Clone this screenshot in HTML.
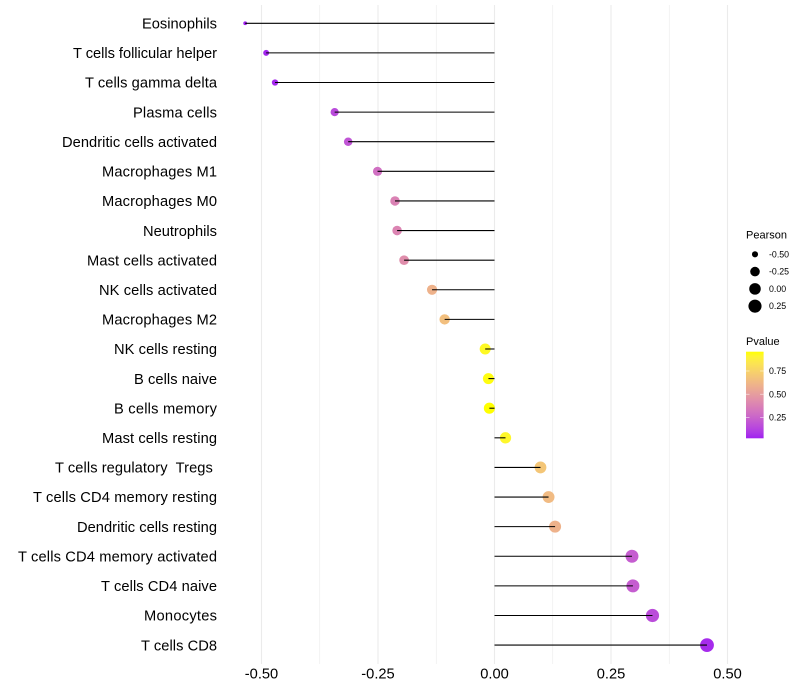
<!DOCTYPE html>
<html lang="en">
<head>
<meta charset="utf-8">
<title>Immune cell correlation lollipop chart</title>
<style>
  html, body { margin: 0; padding: 0; background: #fff; }
  svg { display: block; font-family: "Liberation Sans", Arial, sans-serif; }
  text { white-space: pre; }
</style>
</head>
<body>
<svg id="chart" xmlns="http://www.w3.org/2000/svg" width="800" height="700" viewBox="0 0 800 700">
  <defs>
    <linearGradient id="pvalue-gradient" x1="0" y1="1" x2="0" y2="0"></linearGradient>
  </defs>
  <rect x="0" y="0" width="800" height="700" fill="#ffffff"></rect>
  <g id="grid"></g>
  <g id="points"></g>
  <g id="stems"></g>
  <g id="y-axis"></g>
  <g id="x-axis"></g>
  <g id="size-legend"></g>
  <g id="color-legend"></g>
</svg>
<script>
var categories = ["Eosinophils","T cells follicular helper","T cells gamma delta","Plasma cells","Dendritic cells activated","Macrophages M1","Macrophages M0","Neutrophils","Mast cells activated","NK cells activated","Macrophages M2","NK cells resting","B cells naive","B cells memory","Mast cells resting","T cells regulatory  Tregs ","T cells CD4 memory resting","Dendritic cells resting","T cells CD4 memory activated","T cells CD4 naive","Monocytes","T cells CD8"];
var pearson = [-0.535,-0.49,-0.471,-0.343,-0.314,-0.251,-0.2135,-0.209,-0.194,-0.134,-0.107,-0.02,-0.013,-0.011,0.0236,0.0987,0.116,0.13,0.295,0.297,0.339,0.456];
var pvalue = [0.024,0.034,0.042,0.15,0.19,0.30,0.38,0.39,0.43,0.60,0.66,0.93,0.95,0.958,0.92,0.69,0.64,0.60,0.22,0.22,0.155,0.05];
var xTicks = [-0.5,-0.25,0,0.25,0.5];
var xTickLabels = ["-0.50","-0.25","0.00","0.25","0.50"];
var xMinorTicks = [-0.375,-0.125,0.125,0.375];
var sizeBreaks = [-0.5,-0.25,0,0.25];
var sizeLabels = ["-0.50","-0.25","0.00","0.25"];
var colorBreaks = [0.25,0.5,0.75];
var colorLabels = ["0.25","0.50","0.75"];

var NS = "http://www.w3.org/2000/svg";
// Rendered widths of the category labels (hinted text metrics of the reference).
var labelTextWidths = [75,144,132,84,155,115,115,74,130,118,115,103,83,103,115,162,184,140,199,116,73,76];
function make(tag, attrs, parent) {
  var el = document.createElementNS(NS, tag);
  for (var k in attrs) el.setAttribute(k, attrs[k]);
  parent.appendChild(el);
  return el;
}
function xScale(v) { return 494.5 + v * 466; }
function yScale(i) { return 23.28 + i * 29.61; }

var sizeMin = Math.min.apply(null, pearson);
var sizeMax = Math.max.apply(null, pearson);
function diameter(v) {
  var t = Math.max(0, (v - sizeMin) / (sizeMax - sizeMin));
  return 3.8 + 10 * Math.sqrt(t);
}

function toLab(rgb) {
  var c = rgb.map(function (u) { u /= 255; return u > 0.04045 ? Math.pow((u + 0.055) / 1.055, 2.4) : u / 12.92; });
  var X = (0.4124 * c[0] + 0.3576 * c[1] + 0.1805 * c[2]) / 0.95047;
  var Y = 0.2126 * c[0] + 0.7152 * c[1] + 0.0722 * c[2];
  var Z = (0.0193 * c[0] + 0.1192 * c[1] + 0.9505 * c[2]) / 1.08883;
  var f = function (t) { return t > 0.008856 ? Math.cbrt(t) : 7.787 * t + 16 / 116; };
  return [116 * f(Y) - 16, 500 * (f(X) - f(Y)), 200 * (f(Y) - f(Z))];
}
function fromLab(lab) {
  var fy = (lab[0] + 16) / 116, fx = fy + lab[1] / 500, fz = fy - lab[2] / 200;
  var g = function (t) { return t * t * t > 0.008856 ? t * t * t : (t - 16 / 116) / 7.787; };
  var X = g(fx) * 0.95047, Y = g(fy), Z = g(fz) * 1.08883;
  var rgb = [3.2406 * X - 1.5372 * Y - 0.4986 * Z, -0.9689 * X + 1.8758 * Y + 0.0415 * Z, 0.0557 * X - 0.204 * Y + 1.057 * Z];
  return "rgb(" + rgb.map(function (u) {
    u = Math.max(0, Math.min(1, u));
    u = u > 0.0031308 ? 1.055 * Math.pow(u, 1 / 2.4) - 0.055 : 12.92 * u;
    return Math.round(u * 255);
  }).join(",") + ")";
}
var colorLow = toLab([160, 32, 240]);
var colorHigh = toLab([255, 255, 0]);
var colorMin = 0.024, colorMax = 0.958;
function colorAt(t) {
  t = Math.max(0, Math.min(1, t));
  return fromLab([0, 1, 2].map(function (i) { return colorLow[i] + (colorHigh[i] - colorLow[i]) * t; }));
}
function colorScale(p) { return colorAt((p - colorMin) / (colorMax - colorMin)); }

var gridG = document.getElementById("grid");
xMinorTicks.forEach(function (v) {
  var l = make("line", { x1: xScale(v), x2: xScale(v), y1: 5, y2: 664, stroke: "#ebebeb", "stroke-width": 0.55 }, gridG);
  
  
});
xTicks.forEach(function (v) {
  var l = make("line", { x1: xScale(v), x2: xScale(v), y1: 5, y2: 664, stroke: "#ebebeb", "stroke-width": 1.07 }, gridG);
  
  
});

var pointsG = document.getElementById("points");
var stemsG = document.getElementById("stems");
var yAxisG = document.getElementById("y-axis");
categories.forEach(function (name, i) {
  var c = make("circle", { cx: xScale(pearson[i]), cy: yScale(i), r: diameter(pearson[i]) / 2, fill: colorScale(pvalue[i]) }, pointsG);
  
  
  var s = make("line", { x1: xScale(0), x2: xScale(pearson[i]), y1: yScale(i), y2: yScale(i), stroke: "#000000", "stroke-width": 1.07 }, stemsG);
  
  
  var t = make("text", { x: 217, y: yScale(i) + 5.2, "text-anchor": "end", "font-size": 14.67, fill: "#000000", textLength: labelTextWidths[i], lengthAdjust: "spacing" }, yAxisG);
  
  
  t.textContent = name;
});

var xAxisG = document.getElementById("x-axis");
xTicks.forEach(function (v, i) {
  var t = make("text", { x: xScale(v), y: 678.5, "text-anchor": "middle", "font-size": 14.67, fill: "#000000" }, xAxisG);
  
  
  t.textContent = xTickLabels[i];
});

var sizeG = document.getElementById("size-legend");
var sizeTitle = make("text", { x: 746, y: 238.7, "font-size": 11, fill: "#000000" }, sizeG);


sizeTitle.textContent = "Pearson";
sizeBreaks.forEach(function (v, i) {
  var y = 254.3 + i * 17.28;
  var c = make("circle", { cx: 755, cy: y, r: diameter(v) / 2 + 0.2, fill: "#000000" }, sizeG);
  
  
  var t = make("text", { x: 769, y: y + 3.1, "font-size": 8.8, fill: "#000000" }, sizeG);
  
  
  t.textContent = sizeLabels[i];
});

var grad = document.getElementById("pvalue-gradient");
for (var s = 0; s <= 20; s++) {
  make("stop", { offset: (s * 5) + "%", "stop-color": colorAt(s / 20) }, grad);
}
var colorG = document.getElementById("color-legend");
var colorTitle = make("text", { x: 746, y: 345, "font-size": 11, fill: "#000000" }, colorG);


colorTitle.textContent = "Pvalue";
var barTop = 351.7, barBottom = 438.3, barLeft = 746, barW = 17.6;
var bar = make("rect", { x: barLeft, y: barTop, width: barW, height: barBottom - barTop, fill: "url(#pvalue-gradient)" }, colorG);


function barY(p) { return barBottom - (p - colorMin) / (colorMax - colorMin) * (barBottom - barTop); }
colorBreaks.forEach(function (p, i) {
  var y = barY(p);
  var a = make("line", { x1: barLeft, x2: barLeft + 3.5, y1: y, y2: y, stroke: "#ffffff", "stroke-width": 0.5 }, colorG);
  
  
  var b = make("line", { x1: barLeft + barW - 3.5, x2: barLeft + barW, y1: y, y2: y, stroke: "#ffffff", "stroke-width": 0.5 }, colorG);
  
  
  var t = make("text", { x: 769, y: y + 3.1, "font-size": 8.8, fill: "#000000" }, colorG);
  
  
  t.textContent = colorLabels[i];
});
</script>
</body>
</html>
